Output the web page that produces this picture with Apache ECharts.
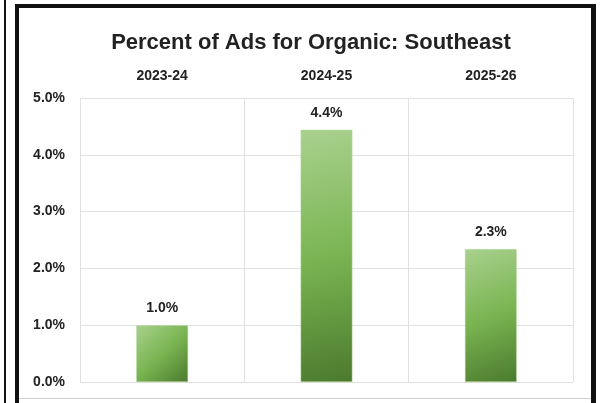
<!DOCTYPE html>
<html>
<head>
<meta charset="utf-8">
<script src="https://cdn.jsdelivr.net/npm/echarts@6/dist/echarts.min.js"></script>
<style>
  html, body { margin: 0; padding: 0; background: #fff; }
  .wrap { position: relative; width: 605px; height: 403px; overflow: hidden; }
  .thin-line { position: absolute; left: 4px; top: 0; width: 2px; height: 403px; background: #111; }
  .frame {
    position: absolute; left: 15px; top: 4px; width: 572px; height: 420px;
    border-left: 4px solid #111; border-top: 4px solid #111; border-right: 5px solid #111;
  }
  .bottom-line { position: absolute; left: 19px; top: 398px; width: 572px; height: 1px; background: #d0d0d0; }
  #chart { position: absolute; left: 0; top: 0; width: 605px; height: 403px; }
</style>
</head>
<body>
<div class="wrap">
  <div class="thin-line"></div>
  <div class="frame"></div>
  <div class="bottom-line"></div>
  <div id="chart"></div>
</div>
<script>
const seasons = ['2023-24', '2024-25', '2025-26']
const pctOrganic = [1.0, 4.44, 2.34]
const yTicks = { min: 0, max: 5, interval: 1 }

const textColor = '#222'
const gridColor = '#e0e0e0'
const font = "'Liberation Sans', Arial, sans-serif"

const chart = echarts.init(document.getElementById('chart'), null, { renderer: 'canvas' })

// diagonal fill, light top-left to dark bottom-right
const barFill = new echarts.graphic.LinearGradient(0, 0, 1, 1, [
  { offset: 0, color: '#a9d18e' },
  { offset: 0.5, color: '#7ab552' },
  { offset: 1, color: '#4b7a2d' },
])

const option = {
  animation: false,
  backgroundColor: 'transparent',
  textStyle: { fontFamily: font },
  title: {
    text: 'Percent of Ads for Organic: Southeast',
    left: 306,
    textAlign: 'center',
    top: 27,
    textStyle: { fontSize: 22, fontWeight: 'bold', color: textColor, fontFamily: font },
  },
  grid: { left: 80, right: 32, top: 98, bottom: 21 },
  xAxis: {
    type: 'category',
    position: 'top',
    data: seasons,
    axisLine: { show: false },
    axisTick: { show: false },
    axisLabel: { fontSize: 14, fontWeight: 'bold', color: textColor, margin: 15 },
    splitLine: { show: true, lineStyle: { color: gridColor, width: 1 } },
  },
  yAxis: {
    type: 'value',
    min: yTicks.min,
    max: yTicks.max,
    interval: yTicks.interval,
    axisLine: { show: false },
    axisTick: { show: false },
    axisLabel: {
      fontSize: 14,
      fontWeight: 'bold',
      color: textColor,
      margin: 15,
      formatter: (v) => v.toFixed(1) + '%',
    },
    splitLine: { lineStyle: { color: gridColor, width: 1 } },
  },
  series: [
    {
      type: 'bar',
      data: pctOrganic,
      barWidth: '31.5%',
      itemStyle: { color: barFill, borderColor: '#b9dba4', borderWidth: 0.5 },
      label: {
        show: true,
        position: 'top',
        distance: 10,
        fontSize: 14,
        fontWeight: 'bold',
        color: textColor,
        formatter: (p) => p.value.toFixed(1) + '%',
      },
    },
  ],
}

chart.setOption(option)
</script>
</body>
</html>
